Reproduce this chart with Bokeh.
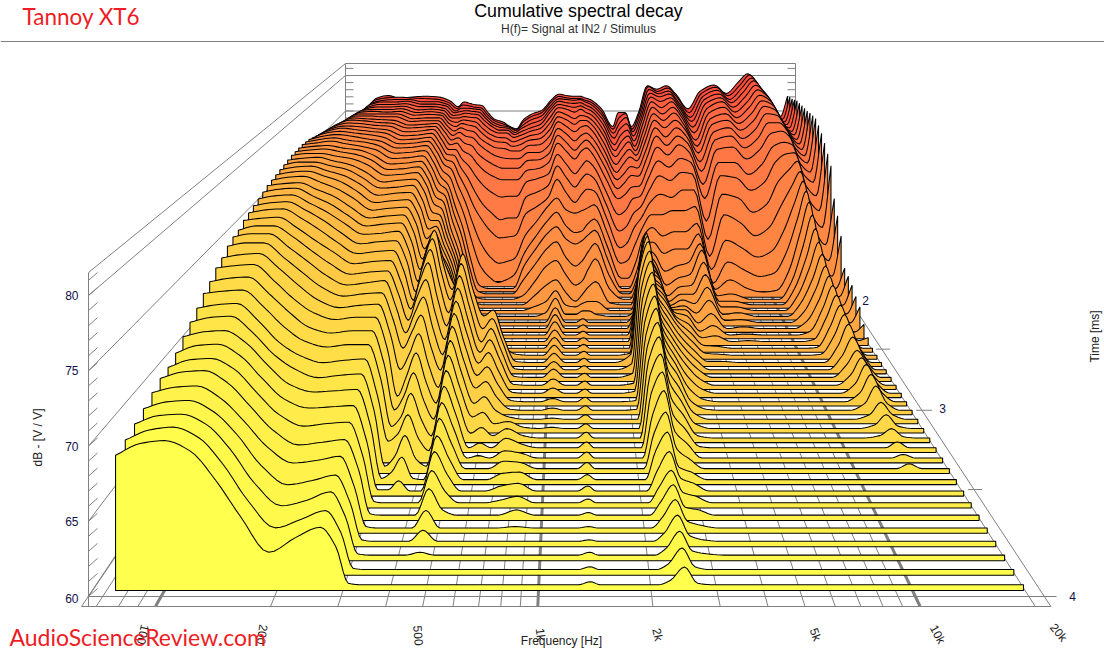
from bokeh.plotting import figure
from bokeh.models import Range1d
from bokeh.core.properties import value
from bokeh.embed import file_html
from bokeh.resources import INLINE
import math

# Levels are tenths of a dB above the 60 dB floor, one list per frequency,
# each running from the latest slice (front) to the earliest slice (back).
f00074=[92,94,97,100,104,107,108,112,118,123,128,134,138,144,147,152,155,156,160,162,164,166,168,170,171,172,173,174,175,176,176,176,176,175,174,172,170,168,166,164,158,150,142,134,126,118,112,106,100,96,90]
f00086=[100,101,103,105,108,112,114,118,122,127,131,136,141,146,150,155,158,160,162,165,167,169,171,172,174,175,176,177,177,178,178,178,178,178,178,178,177,176,175,174,172,170,168,166,163,160,157,153,149,145,140]
f00100=[102,103,104,106,109,113,115,119,123,128,132,137,142,147,151,155,158,160,163,166,168,170,172,173,175,176,177,177,178,178,179,179,180,180,180,180,180,179,179,179,178,177,176,175,174,172,171,171,170,170,170]
f00117=[95,96,97,98,100,104,107,110,113,115,118,123,128,133,138,142,146,150,153,157,160,162,164,166,169,171,172,173,174,175,176,176,177,177,178,178,178,178,178,178,177,177,176,176,175,175,175,175,174,174,174]
f00137=[75,77,79,81,83,86,89,92,95,97,100,106,112,117,123,128,133,137,141,146,150,153,156,159,162,165,167,169,170,172,173,174,174,175,175,176,176,176,176,176,176,176,176,175,175,175,175,175,175,175,170]
f00160=[50,52,55,59,64,68,72,76,80,85,89,94,99,105,110,115,120,125,130,134,138,142,145,148,152,155,158,160,162,165,167,168,170,171,172,173,174,174,175,175,175,176,176,176,176,176,176,176,175,174,172]
f00190=[26,33,39,45,52,57,63,69,74,78,83,89,94,99,103,107,111,115,119,123,127,131,134,137,140,143,146,149,151,154,156,158,160,162,164,165,166,167,168,169,169,170,170,171,171,171,172,172,172,173,173]
f00224=[36,39,43,48,54,59,65,70,75,80,85,91,96,101,105,109,113,117,121,125,129,132,136,139,142,145,148,150,153,155,157,159,161,163,165,166,167,168,169,170,170,171,171,172,172,172,172,172,172,172,172]
f00261=[43,45,49,52,57,61,66,71,76,81,86,91,96,101,106,110,115,118,122,126,130,134,137,140,143,146,149,152,154,157,159,161,163,165,167,168,169,170,171,171,171,171,171,171,170,170,169,169,168,167,166]
f00287=[30,30,31,32,34,38,40,43,47,51,55,61,67,73,79,85,90,95,100,105,110,114,118,122,126,130,133,136,140,143,145,147,149,151,153,155,156,157,158,159,160,160,160,160,160,160,160,160,159,159,158]
f00310=[5,5,5,5,5,5,5,5,5,6,18,22,28,32,48,60,67,72,76,78,80,84,90,95,100,105,110,114,118,122,125,128,131,134,137,140,142,144,146,148,150,152,154,156,158,160,161,162,163,164,165]
f00334=[4,4,4,4,4,4,4,5,10,14,24,30,40,50,62,75,85,94,102,108,112,115,115,113,112,112,113,114,115,117,120,122,124,125,130,135,139,143,146,150,153,156,158,160,161,162,163,163,163,163,163]
f00360=[4,4,4,4,4,4,4,12,22,31,40,50,60,70,80,90,100,110,120,127,132,135,118,100,96,95,93,92,91,90,90,94,97,100,108,115,122,128,134,140,146,151,155,158,160,161,162,162,162,161,161]
f00390=[4,4,4,4,4,4,4,4,5,12,20,28,36,44,52,61,70,78,86,93,98,100,95,85,80,75,72,70,67,65,65,68,72,75,85,95,105,115,125,135,143,149,153,156,158,160,161,161,161,160,160]
f00422=[4,4,4,4,4,4,4,4,4,6,10,14,20,26,32,40,47,54,60,66,72,76,75,60,50,45,40,36,33,30,30,34,37,40,55,70,85,98,112,124,132,140,144,148,150,152,153,153,152,151,150]
f00463=[4,4,6,12,17,24,29,35,39,45,50,56,62,68,74,80,85,90,96,102,108,112,60,30,18,12,10,8,7,6,6,6,7,8,25,45,68,82,100,114,124,132,137,140,142,144,145,144,143,142,140]
f00508=[4,4,4,4,4,8,13,17,20,24,28,32,36,40,45,50,55,60,65,70,74,76,30,6,4,4,4,4,4,4,4,4,4,4,12,30,55,72,92,108,118,126,132,136,138,140,140,140,139,138,137]
f00560=[4,4,4,4,4,4,4,4,4,4,4,4,8,14,18,24,28,32,35,38,44,50,20,4,4,4,4,4,4,4,4,4,4,4,5,22,47,64,87,104,114,123,131,135,137,140,140,139,137,134,130]
f00610=[4,4,4,4,4,4,4,4,4,4,6,8,13,18,24,30,36,42,47,51,54,56,25,4,4,4,4,4,4,4,4,4,4,4,8,24,48,66,88,104,114,122,128,130,132,134,134,133,132,129,127]
f00666=[4,4,4,4,4,4,4,4,4,4,4,4,6,8,12,16,20,24,28,30,32,30,12,4,4,4,4,4,4,4,4,4,4,4,14,28,50,66,88,104,114,122,128,132,135,137,138,139,139,140,140]
f00744=[4,4,4,4,4,4,6,8,9,10,10,12,12,10,6,5,5,5,5,5,5,5,5,4,4,4,4,4,4,4,4,8,20,30,40,55,76,92,106,116,124,130,135,138,140,142,143,145,147,148,148]
f00842=[4,4,4,4,5,8,9,10,10,9,8,7,6,5,4,4,4,4,4,4,4,4,4,4,4,4,4,4,4,8,14,24,38,50,60,72,85,98,110,118,125,130,136,140,143,146,148,150,152,153,153]
f00952=[4,4,4,4,4,4,4,4,4,4,4,4,4,4,4,4,4,4,4,4,4,4,4,4,4,4,4,4,8,14,26,42,56,68,78,90,96,106,116,126,133,140,147,152,157,161,165,166,167,168,168]
f01050=[4,4,4,4,4,4,4,4,4,4,4,4,4,5,5,6,7,9,10,12,12,13,14,15,16,18,19,20,24,26,32,48,64,76,88,100,118,130,140,150,156,161,166,169,172,174,175,176,176,176,176]
f01160=[4,4,4,4,4,4,4,4,4,4,4,4,4,4,4,4,4,4,4,4,4,4,4,4,4,4,4,4,6,10,18,32,46,62,72,86,102,116,128,140,147,154,160,165,168,172,173,174,175,174,174]
f01280=[4,4,4,4,4,4,4,4,4,4,4,4,4,4,4,4,4,4,4,4,4,4,4,4,4,4,4,4,6,8,8,20,36,56,64,82,90,104,116,130,137,145,153,159,163,168,171,173,174,173,173]
f01377=[6,6,6,5,5,6,7,8,8,9,9,9,9,8,8,8,8,8,8,8,8,8,8,8,8,8,8,8,10,12,16,25,42,60,66,85,100,114,125,140,145,152,159,164,167,172,173,174,175,173,173]
f01460=[4,4,4,4,4,4,4,4,4,4,4,4,4,4,4,4,4,4,4,4,4,4,4,4,4,4,4,4,10,14,24,38,52,66,74,88,106,120,132,144,150,155,161,164,166,168,170,171,172,171,171]
f01577=[4,4,4,4,4,4,4,4,4,4,4,4,4,4,4,4,4,4,4,4,4,4,4,4,4,4,4,4,6,14,30,50,62,72,80,92,104,115,125,135,142,148,154,158,161,164,166,167,168,168,168]
f01817=[4,4,4,4,4,4,4,4,4,4,4,4,4,4,4,4,4,4,4,4,4,4,4,4,4,4,4,4,4,4,6,16,26,36,46,58,70,82,94,106,115,122,128,134,140,144,148,151,153,154,155]
f02093=[4,4,4,4,4,4,4,4,4,4,4,4,4,4,4,5,5,6,6,8,10,12,6,4,4,4,4,4,4,4,4,4,4,4,10,22,35,50,65,80,88,95,100,106,112,116,120,125,128,130,130]
f02254=[7,8,9,10,12,14,16,20,27,33,40,50,57,63,68,72,77,81,85,89,93,95,85,70,52,36,24,14,8,5,4,4,4,4,10,25,40,55,70,85,95,102,110,116,122,128,133,138,142,146,150]
f02457=[16,19,21,23,25,27,29,35,42,50,60,68,76,84,90,96,101,106,111,116,120,124,124,122,115,108,98,85,70,55,40,30,25,25,30,45,60,72,85,95,105,112,120,126,132,136,140,145,150,152,150]
f02662=[5,6,7,8,9,10,12,14,14,20,26,32,38,44,48,52,56,58,60,62,64,66,66,66,64,62,60,60,60,60,58,56,56,58,60,65,72,80,88,96,104,110,115,118,120,122,125,128,130,130,130]
f02919=[4,4,5,5,6,8,9,10,10,12,16,20,24,28,32,36,38,40,42,44,46,48,50,52,52,52,50,50,48,46,44,46,50,58,70,80,90,100,110,118,126,132,138,142,146,150,152,152,152,152,150]
f03262=[4,4,4,4,4,4,4,4,4,4,4,5,6,8,10,12,16,20,24,26,28,30,32,32,30,28,24,20,16,14,14,20,30,45,60,80,100,118,132,145,155,162,168,173,178,182,185,187,189,190,188]
f03687=[4,4,4,4,4,4,4,4,4,4,4,4,4,4,4,5,6,8,10,12,14,16,18,20,22,24,24,22,22,22,24,28,36,50,65,85,96,112,124,135,143,150,158,164,169,174,179,182,183,183,183]
f04171=[4,4,4,4,4,4,4,4,4,4,4,4,4,4,4,4,4,4,4,4,4,5,6,7,8,8,10,14,18,22,26,32,40,50,65,85,105,122,135,148,155,162,168,174,178,182,184,186,187,188,188]
f04720=[4,4,4,4,4,4,4,4,4,4,4,4,4,4,4,4,4,4,4,4,4,5,5,6,10,14,20,28,36,44,52,60,62,68,75,90,105,120,130,138,145,150,155,158,162,165,168,170,172,175,176]
f05505=[4,4,4,4,4,4,4,4,4,4,4,4,4,4,4,4,4,4,4,4,4,4,4,4,4,4,4,6,6,8,8,8,9,10,20,30,45,62,85,98,110,118,125,130,134,140,144,148,150,153,155]
f06417=[4,4,4,4,4,4,4,4,4,4,4,4,4,4,4,4,4,4,4,4,4,4,4,4,5,5,6,7,8,8,8,10,20,35,55,80,100,118,130,142,150,156,162,166,170,173,176,178,179,180,180]
f07724=[4,4,4,4,4,4,4,4,4,4,4,4,4,4,4,4,4,4,4,4,4,4,4,4,4,4,4,4,4,4,4,4,10,25,45,70,95,115,130,145,155,162,168,173,178,182,184,186,188,189,189]
f09006=[4,4,4,4,4,4,4,4,4,4,4,4,4,4,4,4,4,4,4,4,4,4,4,4,4,4,4,4,4,4,4,4,6,18,35,55,78,100,115,130,140,148,155,160,164,168,171,174,175,177,177]
f10500=[4,4,4,4,4,4,4,4,4,4,4,4,4,4,4,4,4,4,4,4,4,4,4,4,4,4,4,4,4,4,4,4,8,22,42,65,88,110,128,142,152,160,167,173,178,182,186,189,191,192,193]
f11880=[4,4,4,4,4,4,4,4,4,4,4,4,4,4,4,4,4,4,4,4,4,4,5,5,6,8,12,15,18,20,22,24,30,45,65,90,115,135,150,162,172,180,186,190,194,198,201,204,205,206,205]
f13440=[4,4,4,4,4,4,4,4,4,4,4,4,6,7,8,10,12,13,14,16,18,21,24,27,30,33,36,41,46,52,58,66,76,86,100,115,130,145,155,165,172,178,182,185,187,189,190,190,190,190,190]
f14730=[4,4,4,4,4,4,4,4,4,8,7,9,12,16,19,26,29,31,30,30,36,42,45,48,52,56,60,65,72,80,90,100,110,118,125,132,140,146,152,158,162,165,168,170,172,174,175,175,174,173,172]
f16170=[4,4,4,4,4,4,4,4,4,4,4,4,5,6,8,10,12,13,14,16,18,19,20,22,24,26,28,31,34,38,42,50,60,72,85,98,110,120,128,135,140,145,148,150,152,152,152,152,152,151,150]
f18060=[4,4,4,4,4,4,4,4,4,4,4,4,4,4,4,4,4,4,4,4,4,4,4,4,5,7,10,13,16,19,22,30,42,55,70,85,98,110,118,125,130,134,137,139,141,142,143,144,144,144,144]
f19800=[4,4,4,4,4,4,4,4,4,4,4,4,4,4,4,4,4,4,4,4,4,4,4,4,8,15,27,32,38,42,45,76,94,109,143,153,162,170,176,181,181,181,180,180,180,180,180,178,176,175,173]

freqs_hz=[74,86,100,117,137,160,190,224,261,287,310,334,360,390,422,463,508,560,610,666,744,842,952,1050,1160,1280,1377,1460,1577,1817,2093,2254,2457,2662,2919,3262,3687,4171,4720,5505,6417,7724,9006,10500,11880,13440,14730,16170,18060,19800]
columns=[f00074,f00086,f00100,f00117,f00137,f00160,f00190,f00224,f00261,f00287,f00310,f00334,f00360,f00390,f00422,f00463,f00508,f00560,f00610,f00666,f00744,f00842,f00952,f01050,f01160,f01280,f01377,f01460,f01577,f01817,f02093,f02254,f02457,f02662,f02919,f03262,f03687,f04171,f04720,f05505,f06417,f07724,f09006,f10500,f11880,f13440,f14730,f16170,f18060,f19800]
assert all(len(c)==51 for c in columns) and len(columns)==len(freqs_hz)

slice_times_ms=[round(3.977-0.063*i,3) for i in range(51)]
grid_hz=[70,80,90,100,200,300,400,500,600,700,800,900,1000,2000,3000,4000,5000,6000,7000,8000,9000,10000,20000]
thick_hz=[100,1000,10000]
db_ticks=[60,65,70,75,80]
freq_labels=[(100,"100",143,634,-103),(200,"200",262,634,-98),(500,"500",418,635,-86),(1000,"1k",540,634,-83),(2000,"2k",657,634,-78),(5000,"5k",815,634,-70),(10000,"10k",937,634,-62),(20000,"20k",1058,632,-50)]

def scale(t): return 1/(0.992+0.345*(4-t))
def fx(f): return 538+374*math.log10(f/1000)
def sx(f,s): return 570+(fx(f)-570)*s
def base(s): return 590-(1-s)*715

def smooth(xv,yv,n=5):
    # monotone cubic drawing of the line through the read values (no overshoot)
    m=len(xv); d=[(yv[k+1]-yv[k])/(xv[k+1]-xv[k]) for k in range(m-1)]
    t=[d[0]]+[0.0]*(m-2)+[d[-1]]
    for k in range(1,m-1):
        if d[k-1]*d[k]>0:
            t[k]=2*d[k-1]*d[k]/(d[k-1]+d[k])
    ox,oy=[],[]
    for k in range(m-1):
        h=xv[k+1]-xv[k]
        for j in range(n):
            u=j/n
            ox.append(xv[k]+h*u)
            oy.append((2*u**3-3*u**2+1)*yv[k]+(u**3-2*u**2+u)*h*t[k]+(-2*u**3+3*u**2)*yv[k+1]+(u**3-u**2)*h*t[k+1])
    ox.append(xv[-1]); oy.append(yv[-1])
    return ox,oy

S_FRONT,S_BACK=1.022,0.478
p=figure(width=1104,height=648,x_range=Range1d(0,1104),y_range=Range1d(648,0),toolbar_location=None,
         output_backend="svg",min_border=0,outline_line_color=None,background_fill_color="white")
p.margin=(0,0,0,0)
p.axis.visible=False
p.grid.visible=False
G="#808080"
def seg(xs,ys,w=1): p.line(xs,ys,line_color=G,line_width=w)

seg([0,1104],[41,41])
fmin,fmax=64,22000
for f in grid_hz:
    seg([sx(f,S_FRONT),sx(f,S_BACK)],[base(S_FRONT),base(S_BACK)],3 if f in thick_hz else 1)
seg([sx(fmin,S_FRONT),sx(fmax,S_FRONT)],[606,606])
seg([sx(fmin,S_FRONT),sx(fmin,S_BACK)],[606,217])
seg([sx(fmax,S_FRONT),sx(fmax,S_BACK)],[606,217])
XL,XR=88,795
XB=345
def wall_front(db): return 596-(db-60)*15.05
def wall_back(db): return 217-(db-60)*7.1
seg([XL,XL],[272,606]); seg([XB,XB],[63,217]); seg([XR,XR],[63,217]); seg([XB,XR],[63,63])
seg([XL,XB],[272,63])
for d in db_ticks:
    seg([XL,XB],[wall_front(d),wall_back(d)])
    if d>60: seg([XB,XR],[wall_back(d),wall_back(d)])
for d in range(60,82):
    seg([XL,XL+9],[wall_front(d),wall_front(d)-8])
    seg([XB,XB+8],[wall_back(d),wall_back(d)])
    seg([XR-8,XR],[wall_back(d),wall_back(d)])
seg([XL,1056],[596,596])
for t,l in [(3.5,14),(3,16),(2.5,14)]:
    s=scale(t); xe=sx(fmax,s)
    seg([xe-6,xe+l-6],[base(s),base(s)])

stops=[(0,(255,255,77)),(10,(255,226,72)),(20,(255,190,68)),(30,(255,152,66)),(38,(255,122,68)),(44,(255,104,66)),(50,(255,72,60))]
def colour(i):
    for (a,ca),(b,cb) in zip(stops,stops[1:]):
        if a<=i<=b:
            k=(i-a)/(b-a)
            return "#%02x%02x%02x"%tuple(round(u+(v-u)*k) for u,v in zip(ca,cb))
front_x=[fx(f) for f in freqs_hz]
for i in range(50,-1,-1):
    s=scale(slice_times_ms[i])
    ox,oh=smooth(front_x,[c[i]/10 for c in columns])
    xs=[570+(v-570)*s for v in ox]
    ys=[base(s)-h*14.7*s for h in oh]
    p.patch([xs[0]]+xs+[xs[-1]],[base(s)]+ys+[base(s)],fill_color=colour(i),line_color="black",line_width=1.05,line_join="bevel")

NAVY="#10104a"
def txt(x,y,t,size,color="black",font="Liberation Sans",align="center",angle=0):
    p.text([x],[y],text=[t],text_font=value(font),text_font_size=f"{size}px",text_color=color,text_align=align,text_baseline="middle",angle=angle,angle_units="deg")
txt(578,10,"Cumulative spectral decay",17.8)
txt(578,28,"H(f)= Signal at IN2 / Stimulus",12,"#303030")
for d in db_ticks:
    txt(78,wall_front(d) if d>60 else 598,str(d),12,NAVY,align="right")
txt(37,437,"dB - [V / V]",12,"#202020",angle=90)
txt(1094,336,"Time [ms]",12,"#202020",angle=90)
txt(561,640,"Frequency [Hz]",12,"#202020")
for t,x,y in [(2,865,300),(3,942,408),(4,1072,596)]:
    txt(x,y,str(t),12,NAVY)
for f,l,x,y,a in freq_labels:
    txt(x,y,l,12,"#202020",angle=a)
txt(22,16,"Tannoy XT6",22.5,"#ee1c25",font="Lato",align="left")
txt(9,636,"AudioScienceReview.com",23,"#ee1c25",font="Lato",align="left")

open("out.html","w").write(file_html(p,INLINE))
